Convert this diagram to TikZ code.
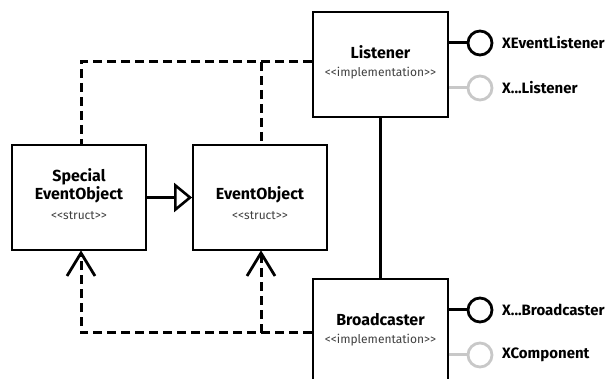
\documentclass[tikz,border=0pt]{standalone}
\usepackage{fontspec}
\setmainfont{Fira Sans}
\usetikzlibrary{arrows.meta}
\definecolor{lightgray}{RGB}{200,200,200}
\newcommand{\stereotext}[1]{{<}{<}#1{>}{>}}
\tikzset{
  box/.style={draw=black, line width=1.8pt, fill=white, inner sep=0pt},
  title/.style={font=\bfseries\fontsize{16}{18}\selectfont, inner sep=0pt, align=center},
  stereo/.style={font=\fontsize{12}{14}\selectfont, text=black!75, inner sep=0pt},
  conn/.style={line width=3pt},
  dep/.style={line width=3pt, dash pattern=on 9pt off 5pt},
  iface/.style={circle, draw=black, line width=2.8pt, minimum size=24pt, inner sep=0pt},
  ifacegray/.style={iface, draw=lightgray},
  ilabel/.style={font=\bfseries\fontsize{15}{17}\selectfont, anchor=west, inner sep=0pt},
  barb/.style={line width=2.8pt, line join=miter},
}
\begin{document}
\begin{tikzpicture}[x=1pt,y=-1pt]
\useasboundingbox (0,0) rectangle (611,379);
\clip (0,0) rectangle (611,379);
% boxes
\node[box, minimum width=135pt, minimum height=105pt] (L) at (380.5,64.5) {};
\node[box, minimum width=135pt, minimum height=140pt] (B) at (380.5,349) {};
\node[box, minimum width=134pt, minimum height=105pt] (S) at (79,197.5) {};
\node[box, minimum width=134pt, minimum height=105pt] (E) at (260,197.5) {};
% texts
\node[title] (Lt) at (380.5,52) {Listener};
\node[stereo] (Ls) at (380.5,73) {\stereotext{implementation}};
\node[title] (Bt) at (380.5,320) {Broadcaster};
\node[stereo] (Bs) at (380.5,340) {\stereotext{implementation}};
\node[title] (St) at (79,186) {Special\\EventObject};
\node[stereo] (Ss) at (79,216) {\stereotext{struct}};
\node[title] (Et) at (260,195) {EventObject};
\node[stereo] (Es) at (260,216) {\stereotext{struct}};
% interfaces
\node[iface] (I1) at (480,43) {};
\node[ifacegray] (I2) at (480,88) {};
\node[iface] (I3) at (480,310) {};
\node[ifacegray] (I4) at (480,355) {};
\node[ilabel] (I1t) at (502,43) {XEventListener};
\node[ilabel] (I2t) at (502,88) {X...Listener};
\node[ilabel] (I3t) at (502,310) {X...Broadcaster};
\node[ilabel] (I4t) at (502,355) {XComponent};
\draw[conn] (L.east |- I1) -- (I1.west);
\draw[conn, draw=lightgray] (L.east |- I2) -- (I2.west);
\draw[conn] (B.east |- I3) -- (I3.west);
\draw[conn, draw=lightgray] (B.east |- I4) -- (I4.west);
% association
\draw[conn] (L.south) -- (B.north);
% generalization
\draw[conn, -{Triangle[open, length=18pt, width=29pt, line width=2.6pt]}] (S.east) -- (E.west);
% dependencies top
\coordinate (t1) at (81,62);
\coordinate (t2) at (261,62);
\draw[dep] (L.west |- t1) -- (t1) -- (t1 |- S.north);
\draw[dep] (t2) -- (t2 |- E.north);
% dependencies bottom
\coordinate (b1) at (81,333);
\coordinate (b2) at (261,333);
\draw[dep] (B.west |- b1) -- (b1) -- (81,256);
\draw[dep] (b2) -- (261,256);
\draw[barb] (67,276) -- (81,253) -- (95,276);
\draw[barb] (247,276) -- (261,253) -- (275,276);
\end{tikzpicture}
\end{document}
